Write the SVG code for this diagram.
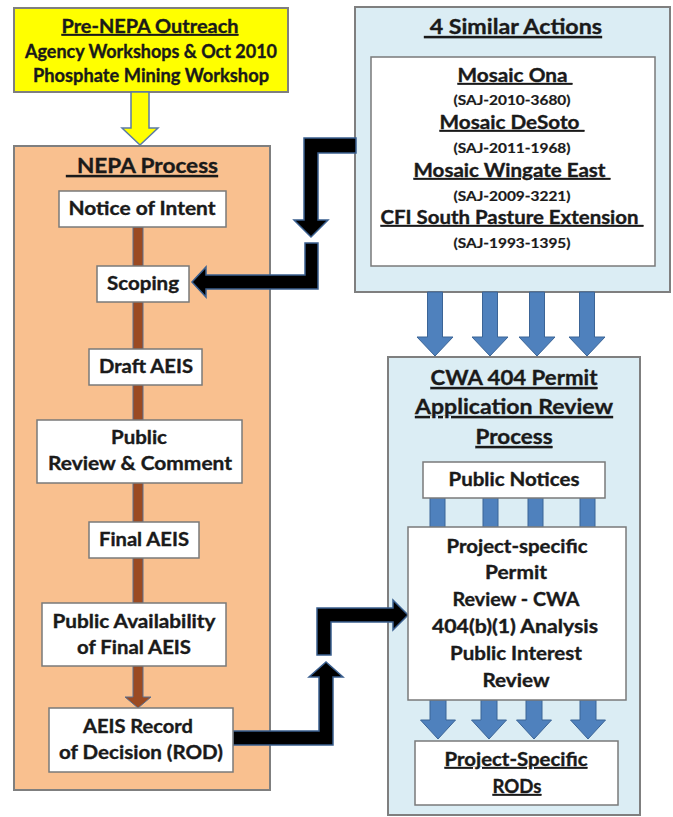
<svg xmlns="http://www.w3.org/2000/svg" width="673" height="817" viewBox="0 0 673 817">
<defs>
<style>
text{font-family:"Lato","Liberation Sans",sans-serif;font-weight:bold;fill:#1a1a1a;stroke:#1a1a1a;stroke-width:0.35;text-anchor:middle;}
.u{text-decoration:underline;}
.h{font-size:21px;}
.b{font-size:18px;}
.s{font-size:13px;stroke-width:0.2;}
.box{fill:#fff;stroke:#7a7a7a;stroke-width:1.5;}
.peach{fill:#F9C08F;stroke:#7f7f7f;stroke-width:2;}
.lblue{fill:#DBEDF4;stroke:#7f7f7f;stroke-width:2;}
.blk{fill:#000;stroke:#3A5F8F;stroke-width:1.5;stroke-linejoin:miter;}
.barr{fill:#4F81BD;stroke:#3B6496;stroke-width:1;}
</style>
<path id="bigArr" d="M-7.5,0 H7.5 V45 H18 L0,64 L-18,45 H-7.5 Z"/>
<path id="smArr" d="M-8,0 H8 V20 H17.5 L0,39 L-17.5,20 H-8 Z"/>
</defs>

<!-- containers -->
<g id="pre-nepa">
<rect x="14" y="8" width="274" height="84" fill="#FFFF00" stroke="#7f7f7f" stroke-width="2"/>
<text class="b u" x="150" y="33" textLength="177" lengthAdjust="spacingAndGlyphs">Pre-NEPA Outreach</text>
<text class="b" x="151" y="58" textLength="252" lengthAdjust="spacingAndGlyphs">Agency Workshops &amp; Oct 2010</text>
<text class="b" x="151" y="82" textLength="236" lengthAdjust="spacingAndGlyphs">Phosphate Mining Workshop</text>
</g>

<g id="nepa-process">
<rect x="14" y="146" width="256" height="644" class="peach"/>
<text class="h u" x="142" y="173" textLength="152" lengthAdjust="spacingAndGlyphs">&#160;&#160;NEPA Process</text>
</g>

<g id="similar-actions">
<rect x="355" y="7" width="315" height="285" class="lblue"/>
<text class="h u" x="513" y="34" textLength="178" lengthAdjust="spacingAndGlyphs">&#160;4 Similar Actions</text>
</g>

<g id="cwa-process">
<rect x="388" y="357" width="252" height="458" class="lblue"/>
<text class="h u" x="514" y="385" textLength="167" lengthAdjust="spacingAndGlyphs">CWA 404 Permit</text>
<text class="h u" x="514" y="414" textLength="198" lengthAdjust="spacingAndGlyphs">Application Review</text>
<text class="h u" x="514" y="444" textLength="77" lengthAdjust="spacingAndGlyphs">Process</text>
</g>

<!-- connectors -->
<g id="connectors">
<path d="M131,92 H149 V128 H158 L140,145 L122,128 H131 Z" fill="#FFFF00" stroke="#5B7BA5" stroke-width="1.5"/>
<path d="M133,227 H143 V697 H151 L138,708 L125,697 H133 Z" fill="#9B4A22" stroke="#5A6E8E" stroke-width="1"/>
<path class="blk" d="M356,138 L304,138 L304,220 L294,220 L311,237 L328,220 L318,220 L318,153 L356,153 Z"/>
<path class="blk" d="M305,243 L318,243 L318,289 L206,289 L206,297 L192,282 L206,267 L206,275 L305,275 Z"/>
<path class="blk" d="M233,731 L319,731 L319,677 L309,677 L326,662 L343,677 L333,677 L333,745 L233,745 Z"/>
<path class="blk" d="M317,655 L317,608 L393,608 L393,600 L408,615 L393,630 L393,622 L331,622 L331,655 Z"/>
<use href="#bigArr" x="435" y="292" class="barr"/>
<use href="#bigArr" x="490" y="292" class="barr"/>
<use href="#bigArr" x="537" y="292" class="barr"/>
<use href="#bigArr" x="587" y="292" class="barr"/>
<rect x="430" y="497" width="15" height="31" class="barr"/>
<rect x="483" y="497" width="15" height="31" class="barr"/>
<rect x="528" y="497" width="15" height="31" class="barr"/>
<rect x="580" y="497" width="15" height="31" class="barr"/>
<use href="#smArr" x="438" y="700" class="barr"/>
<use href="#smArr" x="489" y="700" class="barr"/>
<use href="#smArr" x="534" y="700" class="barr"/>
<use href="#smArr" x="588" y="700" class="barr"/>
</g>

<!-- NEPA steps -->
<g id="notice-of-intent">
<rect x="59" y="191" width="167" height="36" class="box"/>
<text class="b" x="142" y="215" textLength="147" lengthAdjust="spacingAndGlyphs">Notice of Intent</text>
</g>
<g id="scoping">
<rect x="97" y="266" width="92" height="36" class="box"/>
<text class="b" x="143" y="290" textLength="72" lengthAdjust="spacingAndGlyphs">Scoping</text>
</g>
<g id="draft-aeis">
<rect x="89" y="349" width="113" height="36" class="box"/>
<text class="b" x="146" y="373" textLength="94" lengthAdjust="spacingAndGlyphs">Draft AEIS</text>
</g>
<g id="public-review">
<rect x="37" y="420" width="205" height="63" class="box"/>
<text class="b" x="139" y="444" textLength="56" lengthAdjust="spacingAndGlyphs">Public</text>
<text class="b" x="140" y="470" textLength="184" lengthAdjust="spacingAndGlyphs">Review &amp; Comment</text>
</g>
<g id="final-aeis">
<rect x="89" y="522" width="110" height="36" class="box"/>
<text class="b" x="144" y="546" textLength="90" lengthAdjust="spacingAndGlyphs">Final AEIS</text>
</g>
<g id="public-availability">
<rect x="42" y="603" width="184" height="63" class="box"/>
<text class="b" x="134" y="628" textLength="163" lengthAdjust="spacingAndGlyphs">Public Availability</text>
<text class="b" x="134" y="654" textLength="114" lengthAdjust="spacingAndGlyphs">of Final AEIS</text>
</g>
<g id="aeis-rod">
<rect x="49" y="708" width="184" height="64" class="box"/>
<text class="b" x="138" y="733" textLength="110" lengthAdjust="spacingAndGlyphs">AEIS Record</text>
<text class="b" x="141" y="759" textLength="164" lengthAdjust="spacingAndGlyphs">of Decision (ROD)</text>
</g>

<!-- Similar actions list -->
<g id="actions-list">
<rect x="371" y="57" width="284" height="209" class="box"/>
<text class="b u" x="515" y="82" textLength="115" lengthAdjust="spacingAndGlyphs">Mosaic Ona&#160;</text>
<text class="s" x="512" y="105" textLength="117" lengthAdjust="spacingAndGlyphs">(SAJ-2010-3680)</text>
<text class="b u" x="512" y="129" textLength="145" lengthAdjust="spacingAndGlyphs">Mosaic DeSoto&#160;</text>
<text class="s" x="512" y="153" textLength="117" lengthAdjust="spacingAndGlyphs">(SAJ-2011-1968)</text>
<text class="b u" x="512" y="177" textLength="197" lengthAdjust="spacingAndGlyphs">Mosaic Wingate East&#160;</text>
<text class="s" x="512" y="201" textLength="117" lengthAdjust="spacingAndGlyphs">(SAJ-2009-3221)</text>
<text class="b u" x="512" y="224" textLength="263" lengthAdjust="spacingAndGlyphs">CFI South Pasture Extension&#160;</text>
<text class="s" x="512" y="248" textLength="117" lengthAdjust="spacingAndGlyphs">(SAJ-1993-1395)</text>
</g>

<!-- CWA steps -->
<g id="public-notices">
<rect x="423" y="462" width="182" height="36" class="box"/>
<text class="b" x="514" y="486" textLength="131" lengthAdjust="spacingAndGlyphs">Public Notices</text>
</g>
<g id="project-review">
<rect x="408" y="527" width="218" height="173" class="box"/>
<text class="b" x="517" y="553" textLength="141" lengthAdjust="spacingAndGlyphs">Project-specific</text>
<text class="b" x="516" y="579" textLength="62" lengthAdjust="spacingAndGlyphs">Permit</text>
<text class="b" x="516" y="606" textLength="127" lengthAdjust="spacingAndGlyphs">Review - CWA</text>
<text class="b" x="515" y="633" textLength="166" lengthAdjust="spacingAndGlyphs">404(b)(1) Analysis</text>
<text class="b" x="516" y="660" textLength="132" lengthAdjust="spacingAndGlyphs">Public Interest</text>
<text class="b" x="516" y="687" textLength="67" lengthAdjust="spacingAndGlyphs">Review</text>
</g>
<g id="project-rods">
<rect x="415" y="741" width="203" height="64" class="box"/>
<text class="b u" x="516" y="766" textLength="143" lengthAdjust="spacingAndGlyphs">Project-Specific</text>
<text class="b u" x="517" y="793" textLength="49" lengthAdjust="spacingAndGlyphs">RODs</text>
</g>
</svg>
